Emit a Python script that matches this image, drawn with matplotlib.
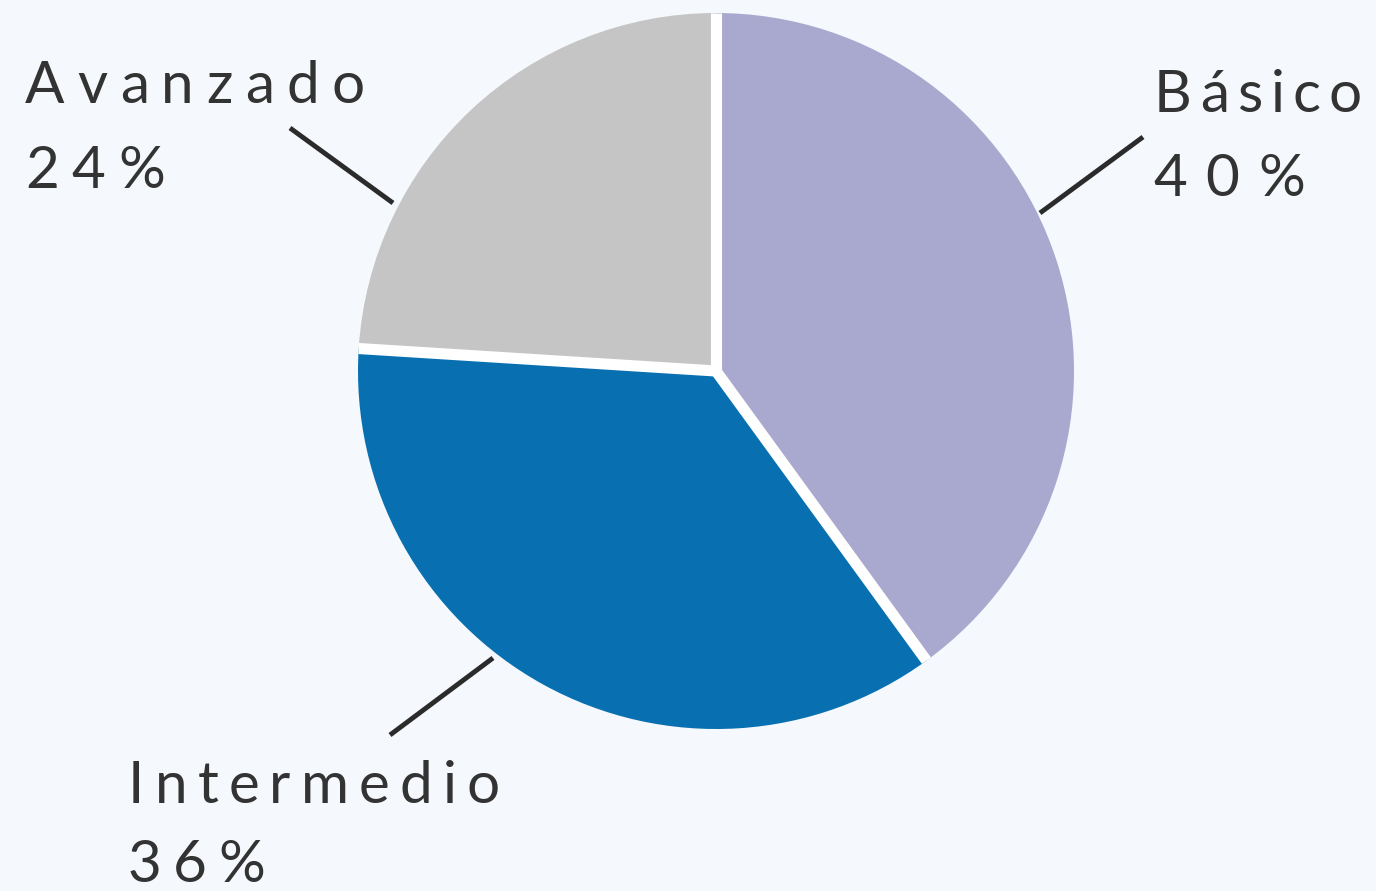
import numpy as np
import matplotlib.pyplot as plt

# data
labels = ['Básico', 'Intermedio', 'Avanzado']
shares = [40, 36, 24]
colors = ['#a9a8cf', '#0870b0', '#c5c5c5']

W, H = 1376, 891
bg = '#f5f8fc'
ink = '#333333'

fig = plt.figure(figsize=(W / 100, H / 100), dpi=100, facecolor=bg)
ax = fig.add_axes([0, 0, 1, 1])

cx, cy, r = 716, H - 371, 358
wedges, _ = ax.pie(shares, colors=colors, startangle=90, counterclock=False,
                   center=(cx, cy), radius=r, frame=True,
                   wedgeprops=dict(edgecolor='none', linewidth=0))
ax.set_xlim(0, W)
ax.set_ylim(0, H)
ax.set_aspect('equal')
ax.axis('off')

# white separators between the slices
ang = 90 - 360 * np.cumsum([0] + shares[:-1]) / sum(shares)
for a in np.deg2rad(ang):
    ax.plot([cx, cx + r * np.cos(a)], [cy, cy + r * np.sin(a)],
            color='white', lw=8, solid_capstyle='butt')
ax.plot(cx, cy, 'o', color='white', ms=8, mew=0)

renderer = fig.canvas.get_renderer()
FS = 42


def spaced_text(x, y, s, width):
    # the labels use wide letter spacing: place chars one by one to span `width` px
    arts = [ax.text(0, y, ch, fontsize=FS, family='Lato', color=ink,
                    ha='left', va='baseline') for ch in s]
    ws = [t.get_window_extent(renderer).width for t in arts]
    track = (width - sum(ws)) / max(len(s) - 1, 1)
    for t, w in zip(arts, ws):
        t.set_x(x)
        x += w + track


# label positions (text left x, baseline y, spanned width) and leader lines (pixels, top-down)
name_pos = {'Básico': (1154, 112, 208), 'Intermedio': (128, 803, 372), 'Avanzado': (25, 103, 340)}
pct_pos = {'Básico': (1153, 196, 152), 'Intermedio': (128, 882, 137), 'Avanzado': (25, 188, 140)}
lead = {'Básico': ((1143, 137), (1040, 213)),
        'Intermedio': ((493, 658), (390, 735)),
        'Avanzado': ((290, 128), (393, 203))}

for lab, val in zip(labels, shares):
    x, y, w = name_pos[lab]
    spaced_text(x, H - y, lab, w)
    x, y, w = pct_pos[lab]
    spaced_text(x, H - y, f'{val}%', w)
    (x1, y1), (x2, y2) = lead[lab]
    ax.plot([x1, x2], [H - y1, H - y2], color='#2b2b2b', lw=3.5, solid_capstyle='butt')

fig.savefig('out.png', dpi=100, facecolor=bg)
